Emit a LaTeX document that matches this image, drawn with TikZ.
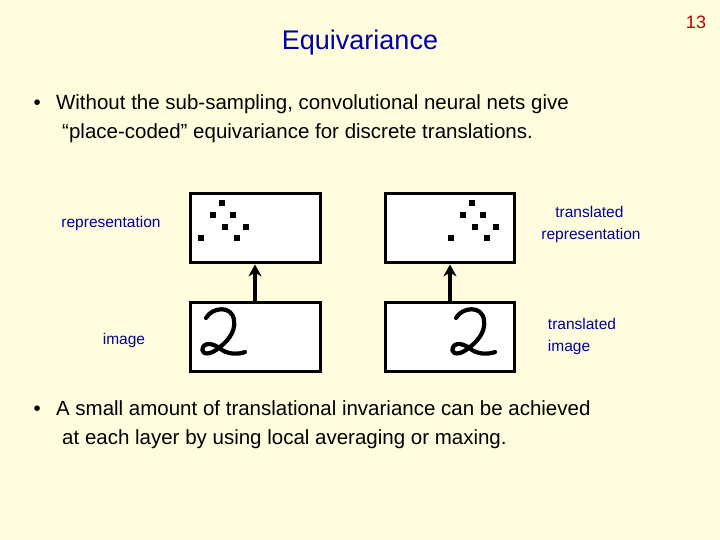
\documentclass[tikz,border=0pt]{standalone}
\usepackage{fontspec}
\setmainfont{Liberation Sans}
\usetikzlibrary{arrows.meta}
\begin{document}
\begin{tikzpicture}[x=1pt,y=-1pt,
  box/.style={draw,line width=3.4pt,fill=white},
  dot/.style={fill=black,minimum size=6.5pt,inner sep=0pt},
  lbl/.style={text=blue!60!black,font=\fontsize{15.5}{22}\selectfont,align=left},
  bul/.style={anchor=north west,align=left,font=\fontsize{20.5}{29}\selectfont},
  arr/.style={line width=3.4pt,-{Stealth[length=12pt,width=13pt]}},
  two/.style={line width=4.2pt,line cap=round,line join=round}]
\fill[yellow!13] (0,0) rectangle (720,540);
\useasboundingbox (0,0) rectangle (720,540);
\node[text=blue!65!black,font=\fontsize{27}{30}\selectfont] (title) at (360,43) {Equivariance};
\node[text=red!75!black,font=\fontsize{18}{20}\selectfont] (num) at (696,22) {13};
\node[bul] (b1) at (30,91) {•\hspace{0.75em}Without the sub-sampling, convolutional neural nets give\\\hspace{1.4em}“place-coded”  equivariance for discrete translations.};
\node[bul] (b2) at (30,397) {•\hspace{0.75em}A small amount of translational invariance can be achieved\\\hspace{1.4em}at each layer by using local averaging or maxing.};
\node[box,minimum width=130pt,minimum height=69pt,anchor=north west] (rl) at (189,192) {};
\node[box,minimum width=130pt,minimum height=69pt,anchor=north west] (il) at (189,301) {};
\node[box,minimum width=129pt,minimum height=69pt,anchor=north west] (rr) at (384,192) {};
\node[box,minimum width=129pt,minimum height=69pt,anchor=north west] (ir) at (384,301) {};
\draw[arr] (il.north -| 255,0) -- (rl.south -| 255,0);
\draw[arr] (ir.north -| 450,0) -- (rr.south -| 450,0);
\foreach \s/\n in {0/l,250/r}{
  \foreach \x/\y [count=\i] in {222/203,213/215,233/215,225/227,246/227,201/238,237/238}
    \node[dot] (d\n\i) at (\x+\s,\y) {};
  \begin{scope}[shift={(\s,0)}]
  \draw[two] (206,318) .. controls (212,307) and (232,305) .. (234,320)
    .. controls (236,333) and (226,343) .. (216,350)
    .. controls (206,357) and (200,352) .. (203,347)
    .. controls (207,341) and (216,345) .. (222,350)
    .. controls (230,355) and (240,354) .. (245,352);
  \end{scope}}
\node[lbl] (lr) at (111,223) {representation};
\node[lbl] (li) at (124,340) {image};
\node[lbl] (ltr) at (591,224) {\hspace{0.9em}translated\\representation};
\node[lbl] (lti) at (582,336) {translated\\image};
\end{tikzpicture}
\end{document}
